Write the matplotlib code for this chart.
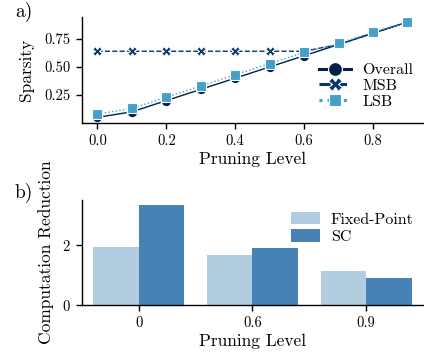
import matplotlib
matplotlib.use('Agg')
import matplotlib.pyplot as plt
from matplotlib.lines import Line2D
import numpy as np

plt.rcParams['font.family'] = ['cmr10', 'DejaVu Serif']
plt.rcParams['mathtext.fontset'] = 'cm'
plt.rcParams['axes.formatter.use_mathtext'] = True
plt.rcParams['axes.unicode_minus'] = False

# panel a) sparsity vs pruning level
pruning = [0.0, 0.1, 0.2, 0.3, 0.4, 0.5, 0.6, 0.7, 0.8, 0.9]
overall = [0.05, 0.10, 0.20, 0.30, 0.40, 0.50, 0.60, 0.70, 0.80, 0.90]
msb = [0.64, 0.64, 0.64, 0.64, 0.64, 0.64, 0.64, 0.70, 0.80, 0.90]
lsb = [0.08, 0.13, 0.23, 0.33, 0.43, 0.53, 0.63, 0.71, 0.81, 0.90]

# panel b) computation reduction
levels = ['0', '0.6', '0.9']
fixed_point = [1.93, 1.66, 1.13]
sc = [3.33, 1.90, 0.90]

c_overall, c_msb, c_lsb = '#011f4b', '#03396c', '#44a0c8'

fig = plt.figure(figsize=(4.24, 3.56), dpi=100)
ax1 = fig.add_axes([0.1934, 0.6545, 0.804, 0.298])
ax2 = fig.add_axes([0.1934, 0.1433, 0.804, 0.295])

ax1.plot(pruning, overall, color=c_overall, lw=1.0, ls='-', marker='o',
         ms=7.5, mec='white', mew=0.8)
ax1.plot(pruning, msb, color=c_msb, lw=1.0, ls='--', marker='X',
         ms=7, mec='white', mew=0.8)
ax1.plot(pruning, lsb, color=c_lsb, lw=1.0, ls=':', marker='s',
         ms=6.5, mec='white', mew=0.8)
ax1.set_xlim(-0.045, 0.945)
ax1.set_ylim(0.0, 0.946)
ax1.set_yticks([0.25, 0.5, 0.75])
ax1.set_yticklabels(['0.25', '0.50', '0.75'])
ax1.set_xticks([0.0, 0.2, 0.4, 0.6, 0.8])
ax1.set_xticklabels(['0.0', '0.2', '0.4', '0.6', '0.8'])
ax1.set_xlabel('Pruning Level', fontsize=12.5, labelpad=3)
ax1.set_ylabel('Sparsity', fontsize=12.5, labelpad=8)

handles = [
    Line2D([], [], color=c_overall, lw=2.2, ls='-', marker='o', ms=10,
           mec='white', mew=0.8),
    Line2D([], [], color=c_msb, lw=2.2, ls='--', marker='X', ms=10,
           mec='white', mew=0.8),
    Line2D([], [], color=c_lsb, lw=2.2, ls=':', marker='s', ms=9,
           mec='white', mew=0.8),
]
ax1.legend(handles, ['Overall', 'MSB', 'LSB'], loc='center right',
           bbox_to_anchor=(1.0, 0.35), frameon=False, fontsize=11.5,
           handlelength=2.0, labelspacing=0.1, borderaxespad=0.2,
           handletextpad=0.7)

x = np.arange(len(levels))
w = 0.4
ax2.bar(x - w / 2, fixed_point, width=w, color='#b3cde0', label='Fixed-Point')
ax2.bar(x + w / 2, sc, width=w, color='#4682b4', label='SC')
ax2.set_xlim(-0.5, 2.5)
ax2.set_ylim(0, 3.5)
ax2.set_yticks([0, 2])
ax2.set_xticks(x)
ax2.set_xticklabels(levels)
ax2.set_xlabel('Pruning Level', fontsize=12.5, labelpad=3)
ax2.set_ylabel('Computation Reduction', fontsize=12.5, labelpad=6)
ax2.legend(loc='upper right', bbox_to_anchor=(1.015, 1.02), frameon=False,
           fontsize=11.5, handlelength=1.8, handleheight=0.8, labelspacing=0.15,
           handletextpad=0.7)

for ax in (ax1, ax2):
    ax.spines['top'].set_visible(False)
    ax.spines['right'].set_visible(False)
    ax.spines['left'].set_linewidth(1.0)
    ax.spines['bottom'].set_linewidth(1.0)
    ax.tick_params(labelsize=10.5, length=4, width=1.0, pad=4)

fig.text(0.035, 0.965, 'a)', fontsize=14, va='center')
fig.text(0.035, 0.458, 'b)', fontsize=14, va='center')

fig.savefig('out.png', dpi=100)
